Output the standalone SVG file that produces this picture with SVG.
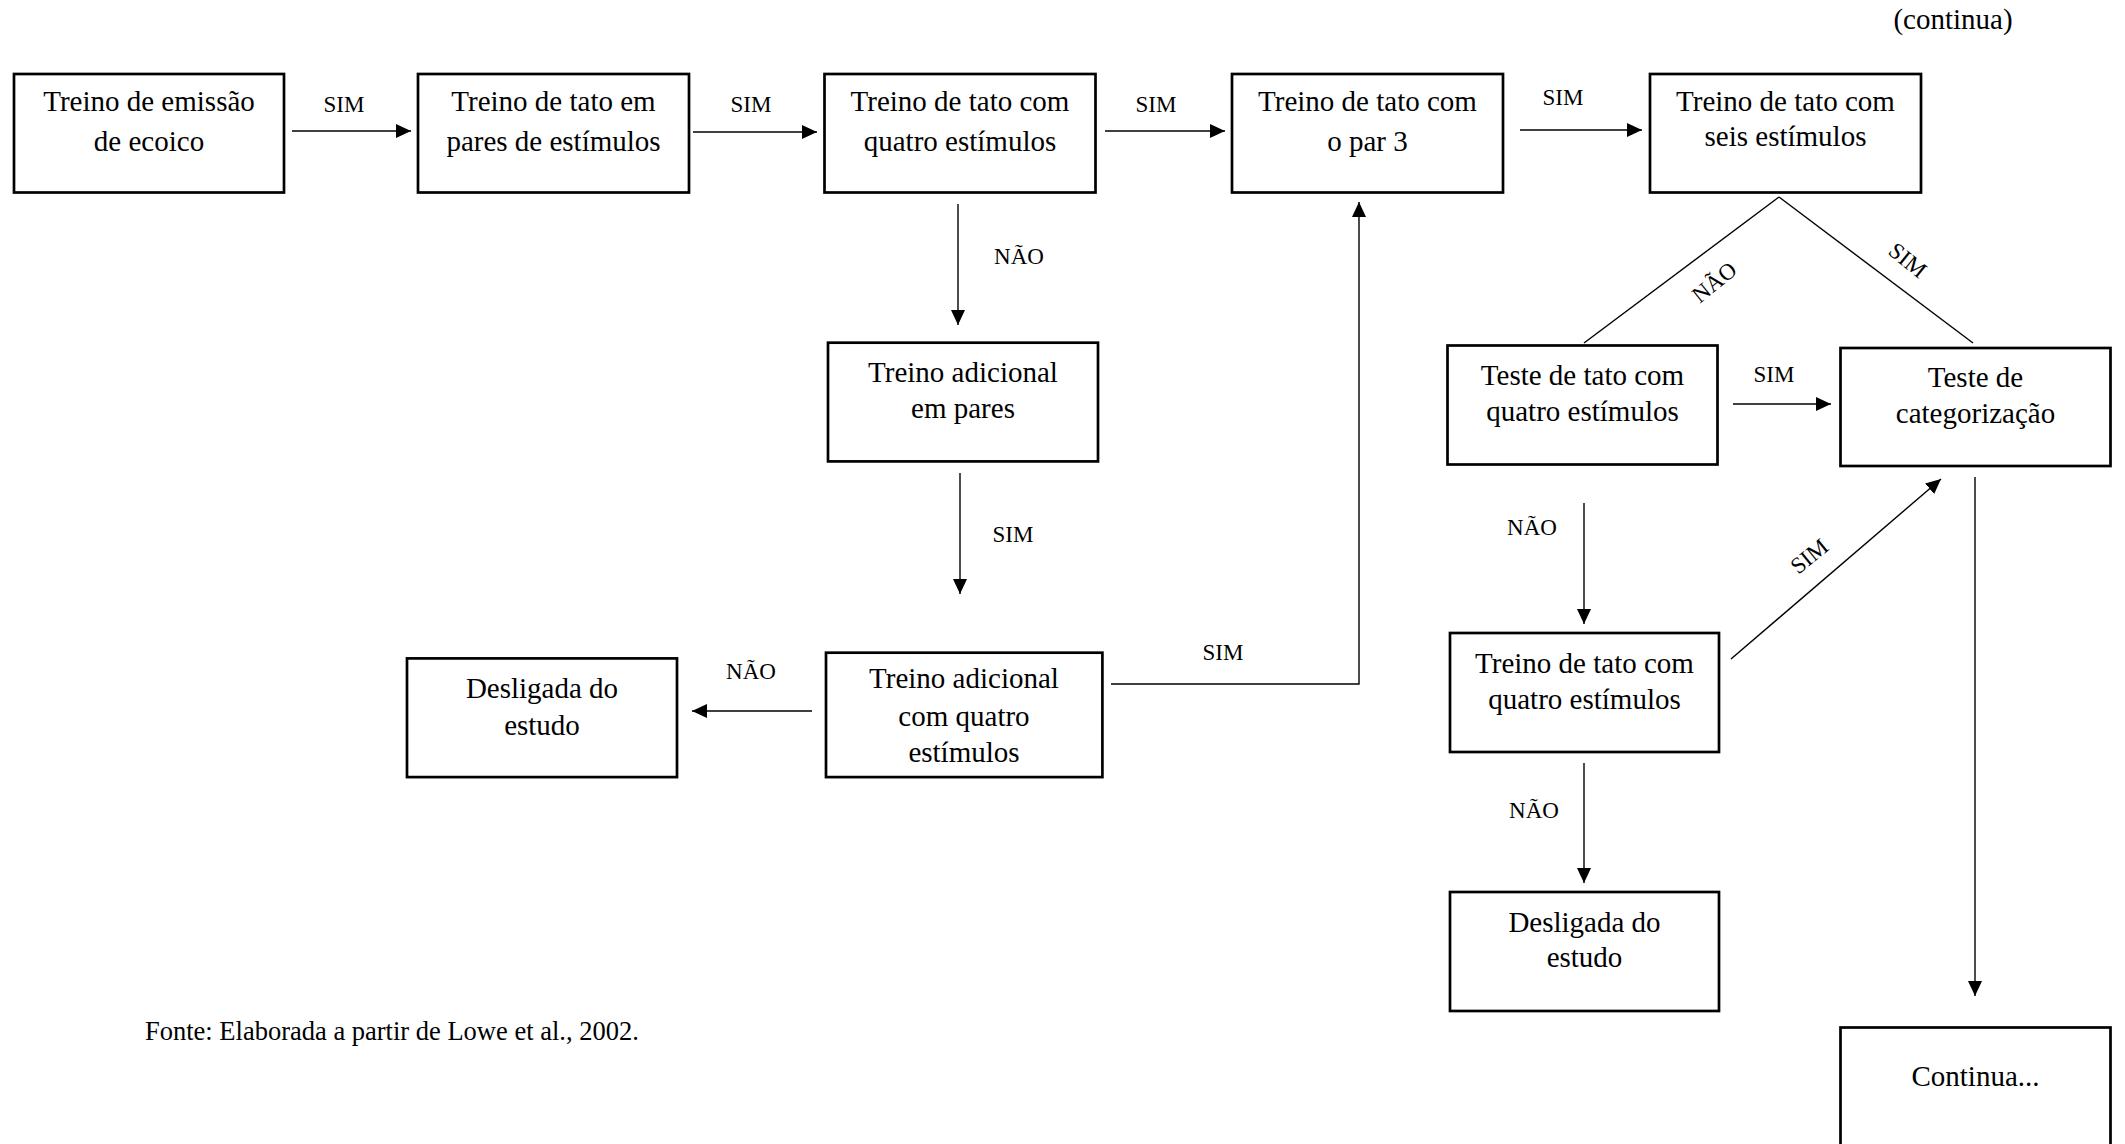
<svg xmlns="http://www.w3.org/2000/svg" width="2125" height="1144" viewBox="0 0 2125 1144">
<style>
.box{fill:#fff;stroke:#000;stroke-width:2.7}
.t{font-family:"Liberation Serif","Times New Roman",serif;font-size:29px;fill:#000;text-anchor:middle}
.lbl{font-family:"Liberation Serif","Times New Roman",serif;font-size:23px;fill:#000;text-anchor:middle}
.c{fill:none;stroke:#000;stroke-width:1.4}
.ca{fill:none;stroke:#000;stroke-width:1.4;marker-end:url(#ah)}
</style>
<defs>
<marker id="ah" markerUnits="userSpaceOnUse" markerWidth="16" markerHeight="14" refX="15" refY="7" orient="auto">
<path d="M0,0 L15,7 L0,14 z" fill="#000"/>
</marker>
</defs>
<rect width="2125" height="1144" fill="#fff"/>
<text class="t" x="1953" y="29">(continua)</text>

<g id="connectors">
<line class="ca" x1="292" y1="131" x2="411" y2="131"/>
<line class="ca" x1="693" y1="132" x2="817" y2="132"/>
<line class="ca" x1="1105" y1="131" x2="1225" y2="131"/>
<line class="ca" x1="1520" y1="130" x2="1642" y2="130"/>
<line class="ca" x1="958" y1="204" x2="958" y2="325"/>
<line class="ca" x1="960" y1="473" x2="960" y2="594"/>
<line class="ca" x1="812" y1="711" x2="692" y2="711"/>
<polyline class="ca" points="1111,684 1359,684 1359,202"/>
<line class="c" x1="1779" y1="197" x2="1584" y2="343"/>
<line class="c" x1="1779" y1="197" x2="1973" y2="343"/>
<line class="ca" x1="1733" y1="404" x2="1831" y2="404"/>
<line class="ca" x1="1584" y1="503" x2="1584" y2="624"/>
<line class="ca" x1="1731" y1="659" x2="1941" y2="479"/>
<line class="ca" x1="1584" y1="763" x2="1584" y2="883"/>
<line class="ca" x1="1975" y1="477" x2="1975" y2="996"/>

<text class="lbl" x="344" y="112">SIM</text>
<text class="lbl" x="751" y="112">SIM</text>
<text class="lbl" x="1156" y="112">SIM</text>
<text class="lbl" x="1563" y="105">SIM</text>
<text class="lbl" x="1019" y="264">NÃO</text>
<text class="lbl" x="1013" y="542">SIM</text>
<text class="lbl" x="751" y="679">NÃO</text>
<text class="lbl" x="1223" y="660">SIM</text>
<text class="lbl" transform="translate(1714,282) rotate(-39)" x="0" y="8">NÃO</text>
<text class="lbl" transform="translate(1908,260) rotate(39)" x="0" y="8">SIM</text>
<text class="lbl" x="1774" y="382">SIM</text>
<text class="lbl" x="1532" y="535">NÃO</text>
<text class="lbl" transform="translate(1809,556) rotate(-39)" x="0" y="8">SIM</text>
<text class="lbl" x="1534" y="818">NÃO</text>
</g>

<g id="n1"><rect class="box" x="14" y="74" width="270" height="118.5"/>
<text class="t" x="149" y="111">Treino de emissão</text><text class="t" x="149" y="151">de ecoico</text></g>
<g id="n2"><rect class="box" x="418" y="74" width="271" height="118.5"/>
<text class="t" x="553.5" y="111">Treino de tato em</text><text class="t" x="553.5" y="151">pares de estímulos</text></g>
<g id="n3"><rect class="box" x="824.5" y="74" width="271" height="118.5"/>
<text class="t" x="960" y="111">Treino de tato com</text><text class="t" x="960" y="151">quatro estímulos</text></g>
<g id="n4"><rect class="box" x="1232" y="74" width="271" height="118.5"/>
<text class="t" x="1367.5" y="111">Treino de tato com</text><text class="t" x="1367.5" y="151">o par 3</text></g>
<g id="n5"><rect class="box" x="1650" y="74" width="271" height="118.5"/>
<text class="t" x="1785.5" y="111">Treino de tato com</text><text class="t" x="1785.5" y="146">seis estímulos</text></g>
<g id="n6"><rect class="box" x="828" y="342.7" width="270" height="118.7"/>
<text class="t" x="963" y="382">Treino adicional</text><text class="t" x="963" y="418">em pares</text></g>
<g id="n7"><rect class="box" x="826" y="652.7" width="276.4" height="124.4"/>
<text class="t" x="964" y="688">Treino adicional</text><text class="t" x="964" y="726">com quatro</text><text class="t" x="964" y="762">estímulos</text></g>
<g id="n8"><rect class="box" x="407" y="658.4" width="270" height="118.7"/>
<text class="t" x="542" y="698">Desligada do</text><text class="t" x="542" y="735">estudo</text></g>
<g id="n9"><rect class="box" x="1447.5" y="345.5" width="270" height="119"/>
<text class="t" x="1582.5" y="385">Teste de tato com</text><text class="t" x="1582.5" y="421">quatro estímulos</text></g>
<g id="n10"><rect class="box" x="1840.5" y="348" width="270" height="118"/>
<text class="t" x="1975.5" y="387">Teste de</text><text class="t" x="1975.5" y="423">categorização</text></g>
<g id="n11"><rect class="box" x="1450" y="633" width="269" height="119"/>
<text class="t" x="1584.5" y="673">Treino de tato com</text><text class="t" x="1584.5" y="709">quatro estímulos</text></g>
<g id="n12"><rect class="box" x="1450" y="892" width="269" height="119"/>
<text class="t" x="1584.5" y="932">Desligada do</text><text class="t" x="1584.5" y="967">estudo</text></g>
<g id="n13"><rect class="box" x="1840.5" y="1027.5" width="270" height="200"/>
<text class="t" x="1975.5" y="1086">Continua...</text></g>

<text class="t" x="145" y="1040" style="text-anchor:start;font-size:26.5px">Fonte: Elaborada a partir de Lowe et al., 2002.</text>
</svg>
